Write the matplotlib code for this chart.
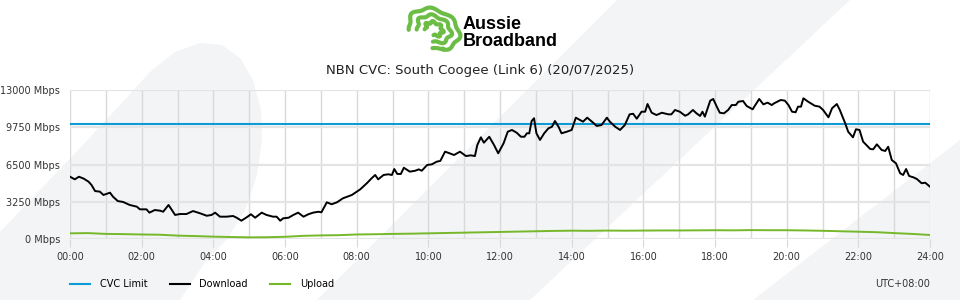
import numpy as np
import matplotlib
matplotlib.use('Agg')
import matplotlib.pyplot as plt
from matplotlib.patches import Polygon, Circle
from matplotlib.lines import Line2D

# chart data (minutes since midnight, Mbps)
title = 'NBN CVC: South Coogee (Link 6) (20/07/2025)'
cvc_limit = 10000
dl_min = [0, 8, 15, 23, 31, 36, 42, 50, 56, 67, 72, 80, 89, 100, 112, 117, 128, 133, 142, 151,
          156, 165, 176, 184, 195, 206, 218, 229, 237, 243, 251, 262, 273, 279, 287, 296, 303,
          310, 321, 329, 340, 346, 352, 357, 366, 374, 382, 391, 399, 407, 416, 421, 430, 438,
          447, 457, 472, 486, 497, 505, 511, 516, 525, 533, 539, 543, 548, 554, 559, 569, 578,
          584, 589, 598, 606, 614, 620, 628, 633, 643, 653, 663, 671, 678, 682, 688, 693, 702,
          710, 717, 726, 733, 740, 748, 755, 761, 765, 769, 773, 777, 781, 787, 794, 801, 807,
          812, 818, 823, 832, 840, 847, 854, 859, 866, 874, 882, 890, 899, 904, 913, 921, 929,
          937, 943, 949, 957, 963, 967, 974, 982, 991, 1002, 1007, 1013, 1021, 1030, 1035, 1043,
          1049, 1055, 1059, 1063, 1072, 1077, 1083, 1088, 1095, 1102, 1108, 1115, 1119, 1127,
          1133, 1143, 1154, 1161, 1168, 1175, 1179, 1190, 1197, 1203, 1209, 1215, 1219, 1224,
          1228, 1236, 1247, 1255, 1261, 1270, 1276, 1284, 1289, 1298, 1303, 1311, 1316, 1322,
          1328, 1340, 1345, 1351, 1359, 1365, 1370, 1376, 1383, 1390, 1395, 1400, 1405, 1412,
          1418, 1426, 1432, 1440]
dl_val = [5450, 5220, 5450, 5280, 5020, 4730, 4200, 4150, 3860, 4060, 3710, 3330, 3250, 2990,
          2840, 2610, 2610, 2320, 2550, 2490, 2400, 2990, 2120, 2200, 2200, 2460, 2260, 2050,
          2120, 2320, 1970, 1970, 2030, 1880, 1620, 1920, 2180, 1880, 2320, 2120, 1970, 1970,
          1620, 1830, 1880, 2120, 2320, 1970, 2180, 2320, 2400, 2350, 3220, 3050, 3220, 3570,
          3860, 4350, 4880, 5310, 5600, 5220, 5600, 5660, 5600, 6120, 5690, 5690, 6230, 5890,
          5970, 6090, 5970, 6470, 6530, 6760, 6820, 7630, 7540, 7340, 7630, 7250, 7310, 7250,
          8210, 8880, 8410, 8930, 8210, 7490, 8360, 9370, 9520, 9280, 8930, 8930, 9230, 9230,
          10300, 10540, 9230, 8650, 9230, 9660, 9800, 10300, 9800, 9230, 9370, 9520, 10590,
          10390, 10240, 10590, 10240, 9870, 9950, 10590, 10240, 9800, 9520, 9950, 10880, 10930,
          10500, 11110, 11110, 11780, 11020, 10820, 11020, 10880, 10880, 11260, 11110, 10760,
          10880, 11260, 10970, 10740, 11110, 10680, 12070, 12220, 11550, 11020, 10970, 11260,
          11690, 11690, 11980, 12040, 11610, 11320, 12220, 11750, 11900, 11690, 11840, 12130,
          12070, 11690, 11110, 11060, 11550, 11550, 12280, 11980, 11630, 11550, 11260, 10620,
          11410, 11780, 11260, 10100, 9370, 8880, 9580, 9520, 8500, 7860, 7840, 8270, 7780,
          7690, 8060, 6900, 6620, 5750, 5600, 6120, 5510, 5400, 5250, 4880, 4930, 4580]
ul_min = list(range(0, 1441, 30))
ul_val = [520, 540, 470, 450, 420, 400, 320, 280, 230, 200, 170, 180, 220, 300, 340, 360, 420,
          440, 470, 490, 520, 550, 580, 610, 640, 670, 700, 730, 750, 740, 760, 750, 760, 770,
          770, 780, 790, 780, 800, 790, 790, 770, 740, 700, 660, 620, 540, 470, 375]
y_ticks = [0, 3250, 6500, 9750, 13000]
x_labels = ['%02d:00' % h for h in range(0, 25, 2)]

fig = plt.figure(figsize=(9.6, 3.0), dpi=100)
fig.patch.set_facecolor('white')

# background decoration, in pixel coords
bg = fig.add_axes([0, 0, 1, 1], zorder=-5)
bg.set_xlim(0, 960)
bg.set_ylim(300, 0)
bg.axis('off')
shade = '#f3f4f6'
left_shape = [(0, 300), (0, 232), (40, 190), (80, 148), (120, 105), (150, 72), (175, 52),
              (200, 43), (222, 45), (240, 58), (253, 80), (261, 110), (262, 140), (257, 175),
              (245, 210), (228, 238), (205, 262), (180, 300)]
bg.add_patch(Polygon(left_shape, closed=True, fc=shade, ec='none'))
bg.add_patch(Polygon([(317, 300), (617, 0), (850, 0), (530, 300)], closed=True, fc=shade, ec='none'))
bg.add_patch(Polygon([(753, 300), (960, 140), (960, 300)], closed=True, fc=shade, ec='none'))

# logo: nested squiggly loops, tilted, plus a dot
green = '#6cbd45'
t = np.linspace(np.radians(215), np.radians(-75), 100)
rot = np.radians(-25)
for r in [7, 14, 21]:
    rr = r + 1.2 * np.sin(t * 7)
    ex = rr * np.cos(t) * 1.25
    ey = rr * np.sin(t) * 0.9
    px = ex * np.cos(rot) - ey * np.sin(rot)
    py = ex * np.sin(rot) + ey * np.cos(rot)
    bg.plot(434 + px, 29 - py, color=green, lw=3.0, solid_capstyle='round')
bg.add_patch(Circle((443, 49), 2.5, fc=green, ec='none'))
bg.text(463, 33, 'Aussie\nBroadband', fontsize=13, fontweight='bold',
        family='Liberation Sans', va='center', ha='left', color='black', linespacing=0.95)

fig.text(0.5, 1 - 70 / 300, title, ha='center', va='center', fontsize=9.5, color='#222222')

ax = fig.add_axes([70 / 960, 1 - 239.3 / 300, 860 / 960, 149.3 / 300])
ax.set_facecolor('none')
ax.set_xlim(0, 1440)
ax.set_ylim(0, 13000)
ax.set_xticks(range(0, 1441, 120))
ax.set_xticklabels(x_labels)
ax.set_xticks(range(0, 1441, 60), minor=True)
ax.set_yticks(y_ticks)
ax.set_yticklabels(['%d Mbps' % v for v in y_ticks])
ax.grid(True, which='both', axis='x', color='#d9d9d9', lw=1)
ax.grid(True, which='major', axis='y', color='#e4e4e4', lw=1.6)
for s in ax.spines.values():
    s.set_visible(False)
ax.tick_params(axis='x', which='major', length=6, color='#d9d9d9', labelsize=7,
               labelcolor='#333333', pad=3)
ax.tick_params(axis='x', which='minor', length=0)
ax.tick_params(axis='y', length=0, labelsize=7, labelcolor='#333333', pad=7)

ax.axhline(cvc_limit, color='#0d9bd8', lw=1.5, zorder=3)
ax.plot(dl_min, dl_val, color='black', lw=1.4, zorder=4)
ax.plot(ul_min, ul_val, color='#76b82a', lw=1.4, zorder=3)

handles = [Line2D([], [], color='#0d9bd8', lw=1.5),
           Line2D([], [], color='black', lw=1.5),
           Line2D([], [], color='#76b82a', lw=1.5)]
fig.legend(handles, ['CVC Limit', 'Download', 'Upload'], loc='center left',
           bbox_to_anchor=(70 / 960, 1 - 284 / 300), ncol=3, frameon=False, fontsize=7,
           handlelength=2.05, handletextpad=1.0, columnspacing=2.3, borderpad=0,
           borderaxespad=0)
fig.text(930 / 960, 1 - 284 / 300, 'UTC+08:00', ha='right', va='center', fontsize=7,
         color='#333333')

fig.savefig('out.png', dpi=100, facecolor='white')
